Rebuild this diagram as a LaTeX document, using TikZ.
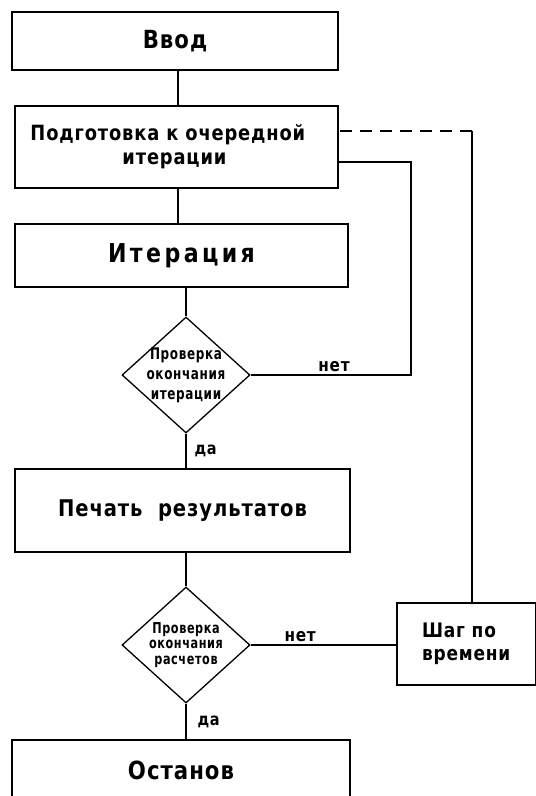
\documentclass[tikz,border=0pt]{standalone}
\usepackage{fontspec}
\setmainfont{DejaVu Sans}[LetterSpace=4, FakeStretch=0.85]
\newfontfamily\checkfont{DejaVu Sans}[LetterSpace=4, FakeStretch=0.75]
\usepackage{tikz}
\usetikzlibrary{positioning,shapes,arrows}

\begin{document}
\begin{tikzpicture}
            [x=1pt,y=-1pt,line width=1.1pt,
             every node/.style={font=\bfseries},
             block/.style={draw, rectangle, line width=1.5pt, inner sep=0pt},
             check/.style={draw, diamond, line width=1.3pt, inner sep=0pt, minimum width=128pt, minimum height=116pt},
             checktext/.style={align=center, inner sep=0pt, font=\checkfont\bfseries\fontsize{16}{20}\selectfont},
             lbl/.style={inner sep=3pt, font=\bfseries\fontsize{18}{18}\selectfont}]
            \useasboundingbox (0,0) rectangle (536,796);
            \node[block, minimum width=326pt, minimum height=58pt, font=\bfseries\fontsize{25}{26}\selectfont] (vvod) at (175,41) {Ввод};
            \node[block, minimum width=323pt, minimum height=82pt, text width=292pt, align=left, font=\bfseries\fontsize{21}{24}\selectfont] (podg) at (176.5,147) {Подготовка к очередной\\\hspace*{92pt}итерации};
            \node[block, minimum width=333pt, minimum height=63pt, font=\bfseries\fontsize{26}{28}\selectfont\addfontfeature{LetterSpace=13}] (iter) at (181.5,255.5) {Итерация};
            \node[check] (d1) at (186,375) {};
            \node[checktext] (t1) at (d1) {Проверка\\окончания\\итерации};
            \node[block, minimum width=335pt, minimum height=83pt, font=\bfseries\fontsize{23}{24}\selectfont] (pechat) at (182.5,510.5) {Печать\ \ результатов};
            \node[check] (d2) at (186,645) {};
            \node[checktext, font=\checkfont\bfseries\fontsize{15}{15.5}\selectfont] (t2) at (d2) {Проверка\\окончания\\расчетов};
            \node[block, minimum width=338pt, minimum height=60pt, font=\bfseries\fontsize{25}{26}\selectfont] (ostanov) at (181,770) {Останов};
            \node[block, minimum width=138.5pt, minimum height=82pt, align=left, font=\bfseries\fontsize{20}{23}\selectfont] (shag) at (466.25,644) {Шаг по\\времени};

            \coordinate (top) at (178,0);
            \coordinate (loop1) at (411,162);
            \coordinate (loop2) at (472,131);

            \foreach \from/\to in {vvod/podg, podg/iter}
            \draw (\from.south -| top) -- (\to.north -| top);
            \foreach \from/\to in {iter/d1, pechat/d2}
            \draw (\from.south -| \to) -- (\to.north);
            \draw (d1.south) -- node[lbl, right, xshift=5pt, font=\bfseries\fontsize{17}{18}\selectfont] {да} (pechat.north -| d1);
            \draw (d2.south) -- node[lbl, right, xshift=8pt, font=\bfseries\fontsize{17}{18}\selectfont] {да} (ostanov.north -| d2);
            \draw (d1.east) -| node[lbl, above, pos=.26] {нет} (loop1) -- (podg.east |- loop1);
            \draw (d2.east) -- node[lbl, above, pos=.34] {нет} (shag.west |- d2);
            \draw (shag.north -| loop2) -- (loop2);
            \draw[dash pattern=on 12pt off 8pt] (loop2) -- (podg.east |- loop2);
          \end{tikzpicture}
\end{document}
